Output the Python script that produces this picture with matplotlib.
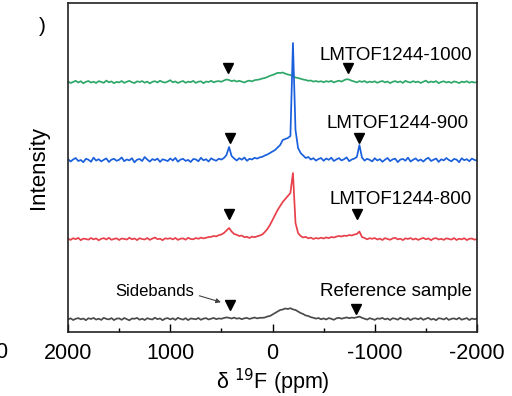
import matplotlib.pyplot as plt
import numpy as np

plt.rcParams['font.family'] = ['Liberation Sans', 'DejaVu Sans']
plt.rcParams['axes.unicode_minus'] = False

# chemical shift grid (ppm), 25 ppm steps from 2000 down to -2000
shift = np.arange(2000, -2001, -25)

# intensities above each baseline
green = [0.5, -1, 0, 1.2, -0.5, 0.8, -1.3, 0.2, 1, -0.6, 0.3, -1, 0.9, 0, -0.8, 1.4, -0.3, 0.6, -1.2, 0.1,
         -0.4, 1, -0.9, 0.3, 1.1, -0.2, -1.1, 0.7, 0, 0.9, -0.7, 0.4, -1.4, 0.2, 0.8, -0.5, 1.3, 0, -0.6, 0.5,
         1.8, -0.3, 0.6, -1, 0.2, 1, -0.8, 0.4, -0.2, 1.1, -0.9, 0.3, 0.7, -1.2, 0.5, 0, 1.2, -0.4, 0.6, 0.9,
         0.2, 1.5, 2.5, 2, 0.8, 1.6, 0.4, 1.2, 0.3, -0.5, 0.8, 1.4, 0.6, 1.8, 2.2, 2.6, 3.5, 4, 5, 6.2,
         7, 8, 9.2, 9, 9.5, 8.4, 7.5, 7, 5.8, 4.5, 4, 3.2, 2.5, 2, 1.2, 1.5, 0.4, 1, 0.2, 0.8,
         -0.3, 0.9, 0.2, 1.1, -0.5, 0.6, 1.3, 0.4, 1.8, 2.8, 2.4, 1.2, 0.5, -0.4, 0.9, 0.1, 1, -0.6, 0.4, -0.2,
         0.7, -0.8, 0.3, 1, -0.4, 0.5, -1.1, 0.2, 0.9, -0.3, 0.6, -0.9, 1.2, 0, -0.5, 0.8, -0.2, 0.4, -1, 0.3,
         1.4, -0.6, 0.5, -0.2, 0.9, -1.2, 0.1, 0.7, -0.5, 0.2, -0.9, 0.6, 0, -1.1, 0.4, -0.3, 0.8, -0.7, 0.2, -0.5,
         -0.2]
blue = [1, -1.5, 0.5, 2, -1, 0, -2.2, 1.2, 0.3, -1.8, 2.4, -0.6, 0.8, -1.4, 0.2, 1.6, -2, 0.4, 1.2, -0.8,
        0.2, 2.6, -1.2, 0.6, -0.4, 1.8, -2.3, 0.3, 1, -1, 3, 0.5, -1.6, 0.9, -0.2, 1.4, -1.9, 0.7, 0, -1.1,
        1.5, -0.5, 2.1, -1.7, 0.4, 1.2, -0.9, 0.1, -2, 1, 0.6, -1.3, 2.2, -0.3, 0.8, -1.5, 1.7, 0.2, -0.7, 1.3,
        0.4, 2, 5, 13, 4, 1.5, -0.5, 1.8, 0.3, 2.5, -0.8, 1.2, 0.5, 2.2, 1.4, 2.6, 3.2, 4.5, 5.5, 7,
        8.5, 10, 12.5, 15, 20, 21, 22, 24, 117, 30, 12, 7, 4.5, 2, 3, 0.5, 1.8, -0.6, 1, 2,
        -0.8, 1.5, 0.2, 2.3, -1, 0.6, 1.9, -0.4, 0.8, 2.6, -1.2, 0.5, 1.4, 3, 15, 2.5, -0.6, 1.2, 0.2, -1.4,
        1.8, -0.5, 0.9, -1.8, 0.3, 2, -1.1, 0.6, 1.3, -2.1, 0.4, 1.1, -0.7, 2.4, -1.5, 0.2, 1.6, -0.9, 0.5, -1.6,
        0.9, 2.2, -1, 0.3, 1.5, -1.9, 0.7, -0.4, 2, 0, -1.3, 1.1, 0.4, -2.2, 1.7, -0.2, 0.8, -1.2, 1.4, 0.1,
        -0.6]
red = [0.3, -0.9, 0.8, -0.2, 1.1, -1.2, 0.4, 0, -0.7, 1, -0.4, 0.6, -1.3, 0.2, 0.9, -0.5, 1.2, -0.8, 0.1, 0.7,
       -1, 0.5, 0.1, -0.6, 1.3, -0.3, 0.6, -1.1, 0.8, 0, -0.5, 1, -0.9, 0.4, 1.5, -0.2, 0.3, -1.2, 0.7, 0.2,
       0.8, -0.4, 1.1, -0.9, 0.3, 0.6, -0.7, 1.2, 0, -0.3, 1, 0.2, 1.4, 0.6, 1.2, 1.9, 2.2, 3, 2.6, 3.8,
       4.5, 6, 8.5, 11, 7.5, 5, 4.2, 3, 3.4, 1.8, 2.2, 1, 2.4, 1.8, 2.6, 3.5, 4.5, 7, 10, 14,
       19, 24, 29, 33, 37, 40, 43, 46, 66, 16, 6, 3, 1.5, 2.2, 0.6, 1.4, 0, 1, 0.4, 1.3,
       0.5, 1.6, 0.8, 2, 1.5, 2.4, 3, 2.5, 3.4, 3, 4, 3.5, 4.5, 5, 7.5, 2, 1, -0.3, 0.8, 0.2,
       1, -0.5, 0.4, -1, 0.9, 0.1, -0.8, 0.6, 1.2, -0.4, 0.3, -1.1, 0.7, 0, 1, -0.6, 0.5, -0.9, 0.2, 1.1,
       -0.3, 0.6, -1.2, 0.4, 0.9, -0.5, 0.2, -0.9, 0.7, 0.1, -0.6, 1, -1, 0.3, -0.4, 0.8, -1.1, 0.2, 0.5, -0.7,
       0]
gray = [-0.5, 0.7, -1, 0.2, 0.9, -0.3, 0.5, -1.2, 0.8, 0, 1.1, -0.6, 0.3, -0.9, 1.2, 0.1, -0.4, 0.9, -1.1, 0.4,
        0.6, -0.8, 1, -0.2, -1.3, 0.5, 0.2, 1.1, -0.7, 0.3, -1, 0.8, 0, -0.5, 1.3, -0.2, 0.6, -1.2, 0.4, 0.9,
        -0.4, 0.7, -0.9, 1.2, 0.1, -0.6, 0.8, -1.1, 0.5, 0.2, -0.3, 1, -0.8, 0.4, 0.9, -0.5, 0.3, 1.1, -0.2, 0.6,
        0.2, 1, 1.6, 1.2, 0.5, 1.4, 0.3, 0.9, -0.2, 0.7, 1.1, 0.1, 0.8, 1.5, 0.6, 1.2, 1.2, 1.5, 2.5, 3,
        4.5, 6, 7.5, 9, 9.5, 10.5, 10, 10.8, 9.6, 9, 7.5, 6, 5, 3.5, 3, 1.8, 1.2, 0.4, 1, -0.3,
        0.6, -0.5, 0.9, 0.2, -0.8, 0.7, 1.2, 0.3, 1, 1.6, 0.8, 1.4, 1.1, 1.8, 2.4, 1.2, 0.3, -0.6, 0.8, 0.1,
        -0.9, 0.6, 0.2, 1.1, -0.4, 0.5, -1, 0.8, 0.3, -0.7, 1.2, 0, -0.5, 0.9, -1.1, 0.4, 0.7, -0.3, 1, -0.8,
        0.3, 1.1, -0.6, 0.2, -1.2, 0.8, 0.4, -0.5, 1, -0.9, 0.2, 0.6, -0.4, 1.2, -0.7, 0.1, 0.9, -1, 0.5, -0.2,
        0.4]

labels = ["LMTOF1244-1000", "LMTOF1244-900", "LMTOF1244-800", "Reference sample"]
offsets = [250, 172, 93, 13]
colors = ["#2ea868", "#1a5fdc", "#e8404a", "#4a4a4a"]
traces = [green, blue, red, gray]

# sideband markers (ppm, height) and label heights per trace
sb_left = [440, 420, 430, 420]
sb_right = [-740, -850, -830, -820]
sb_height = [264, 194, 118, 27]
sb_height_r = [264, 194, 118, 23]
label_y = [277, 208, 132, 40]
label_x = [-1950, -1920, -1950, -1950]

fig = plt.figure(figsize=(5.12, 3.96), dpi=100)
ax = fig.add_axes([68 / 512, 64 / 396, 409 / 512, 329 / 396])

for tr, off, col in zip(traces, offsets, colors):
    ax.plot(shift, np.array(tr) + off, color=col, lw=1.25)

for i in range(4):
    ax.plot([sb_left[i]], [sb_height[i]], marker='v', color='black', ms=6.5, ls='none')
    ax.plot([sb_right[i]], [sb_height_r[i]], marker='v', color='black', ms=6.5, ls='none')
    ax.text(label_x[i], label_y[i], labels[i], ha='right', va='center', fontsize=13.5)

ax.text(1150, 40, "Sidebands", ha='center', va='center', fontsize=12)
ax.annotate("", xy=(478, 29), xytext=(741, 37),
            arrowprops=dict(arrowstyle='-|>', color='#444444', lw=0.8, mutation_scale=7))

ax.set_xlim(2000, -2000)
ax.set_ylim(0, 329)
ax.set_xticks([2000, 1000, 0, -1000, -2000])
ax.set_xticks([1500, 500, -500, -1500], minor=True)
ax.set_yticks([])
ax.tick_params(axis='x', which='major', direction='in', length=6, width=1, labelsize=15.5, pad=8)
ax.tick_params(axis='x', which='minor', direction='in', length=3, width=1)
for s in ax.spines.values():
    s.set_linewidth(1.2)
    s.set_color('#222222')

ax.set_xlabel(r"δ $^{19}$F (ppm)", fontsize=15.5, labelpad=2)
ax.set_ylabel("Intensity", fontsize=16, labelpad=14)

# leftovers from the neighbouring panel crop
fig.text(42 / 512, 1 - 26 / 396, ")", fontsize=15, ha='center', va='center')
fig.text(7 / 512, 1 - 352 / 396, "0", fontsize=15.5, ha='right', va='center')

fig.savefig("out.png", dpi=100)
